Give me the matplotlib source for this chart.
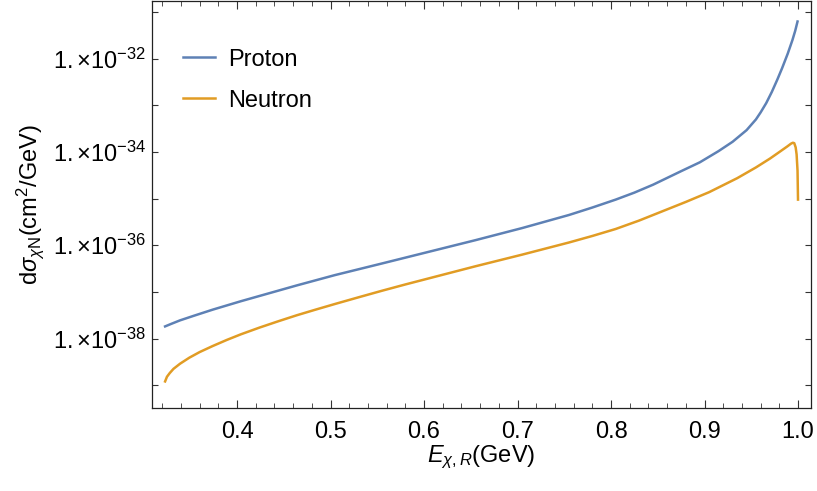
import numpy as np
import matplotlib
matplotlib.use("Agg")
import matplotlib.pyplot as plt

plt.rcParams['font.family'] = ['Liberation Sans', 'DejaVu Sans']
plt.rcParams['mathtext.fontset'] = 'custom'
plt.rcParams['mathtext.rm'] = 'Liberation Sans'
plt.rcParams['mathtext.it'] = 'Liberation Sans:italic'
plt.rcParams['mathtext.default'] = 'regular'

# recoil energy (GeV) and log10 of the differential cross section
proton_E = [0.323, 0.329, 0.339, 0.354, 0.374, 0.404, 0.434, 0.464, 0.5045, 0.555,
            0.605, 0.655, 0.705, 0.755, 0.78, 0.805, 0.825, 0.845, 0.875, 0.895,
            0.915, 0.930, 0.945, 0.955, 0.960, 0.966, 0.972, 0.978, 0.983, 0.989,
            0.994, 0.997, 0.9995]
proton_log = [-37.74, -37.69, -37.61, -37.51, -37.38, -37.20, -37.03, -36.86, -36.64, -36.39,
              -36.14, -35.89, -35.63, -35.35, -35.19, -35.02, -34.87, -34.70, -34.41, -34.22,
              -33.98, -33.78, -33.53, -33.30, -33.15, -32.95, -32.71, -32.44, -32.20, -31.89,
              -31.60, -31.40, -31.20]

neutron_E = [0.323, 0.325, 0.328, 0.332, 0.339, 0.349, 0.360, 0.374, 0.389, 0.404,
             0.424, 0.444, 0.464, 0.484, 0.5045, 0.53, 0.555, 0.58, 0.605, 0.655,
             0.705, 0.755, 0.78, 0.805, 0.83, 0.855, 0.88, 0.905, 0.935, 0.955,
             0.970, 0.980, 0.9885, 0.9925, 0.9945, 0.996, 0.9975, 0.9985, 0.9995, 1.0]
neutron_log = [-38.92, -38.82, -38.74, -38.65, -38.54, -38.41, -38.29, -38.16, -38.03, -37.91,
               -37.765, -37.63, -37.50, -37.38, -37.26, -37.115, -36.975, -36.84, -36.71, -36.45,
               -36.20, -35.94, -35.80, -35.65, -35.47, -35.27, -35.07, -34.86, -34.56, -34.33,
               -34.14, -34.00, -33.88, -33.82, -33.80, -33.81, -33.90, -34.05, -34.40, -35.02]

x_ticks = [0.4, 0.5, 0.6, 0.7, 0.8, 0.9, 1.0]
y_exps = [-39, -38, -37, -36, -35, -34, -33, -32, -31]

fig = plt.figure(figsize=(8.17, 4.91), dpi=100)
ax = fig.add_axes([152 / 817, 1 - 408 / 491, (811 - 152) / 817, 407 / 491])

ax.plot(proton_E, np.power(10.0, proton_log), color='#5E81B5', lw=1.8, label='Proton')
ax.plot(neutron_E, np.power(10.0, neutron_log), color='#E19C24', lw=1.8, label='Neutron')

ax.set_yscale('log')
ax.set_xlim(0.309, 1.0139)
ax.set_ylim(10.0 ** -39.49, 10.0 ** -30.76)

ax.set_xticks(x_ticks)
ax.set_xticklabels(['%.1f' % v for v in x_ticks])
ax.set_xticks(np.arange(0.32, 1.005, 0.02), minor=True)
ax.set_yticks([10.0 ** e for e in y_exps])
ax.set_yticklabels([r'$1.{\times}10^{%d}$' % e if e % 2 == 0 else '' for e in y_exps])
ax.yaxis.set_minor_locator(matplotlib.ticker.NullLocator())

ax.tick_params(axis='both', which='both', direction='in', top=True, right=True,
               color='#333333', labelsize=17)
ax.tick_params(axis='x', which='major', length=6, width=0.8, pad=9)
ax.tick_params(axis='x', which='minor', length=3.5, width=0.6)
ax.tick_params(axis='y', which='major', length=4, width=0.8, pad=4)
for s in ax.spines.values():
    s.set_linewidth(0.9)
    s.set_color('#222222')

ax.set_xlabel(r'$\mathit{E}_{\mathit{\chi},\mathit{R}}$(GeV)', fontsize=17, labelpad=1)
ax.set_ylabel(r'd$\mathit{\sigma}_{\mathit{\chi}N}$(cm$^2$/GeV)', fontsize=17, labelpad=5)

ax.legend(loc='upper left', bbox_to_anchor=(0.015, 0.935), frameon=False, fontsize=17,
          handlelength=1.35, handletextpad=0.55, labelspacing=0.8)

fig.savefig('out.png', dpi=100)
